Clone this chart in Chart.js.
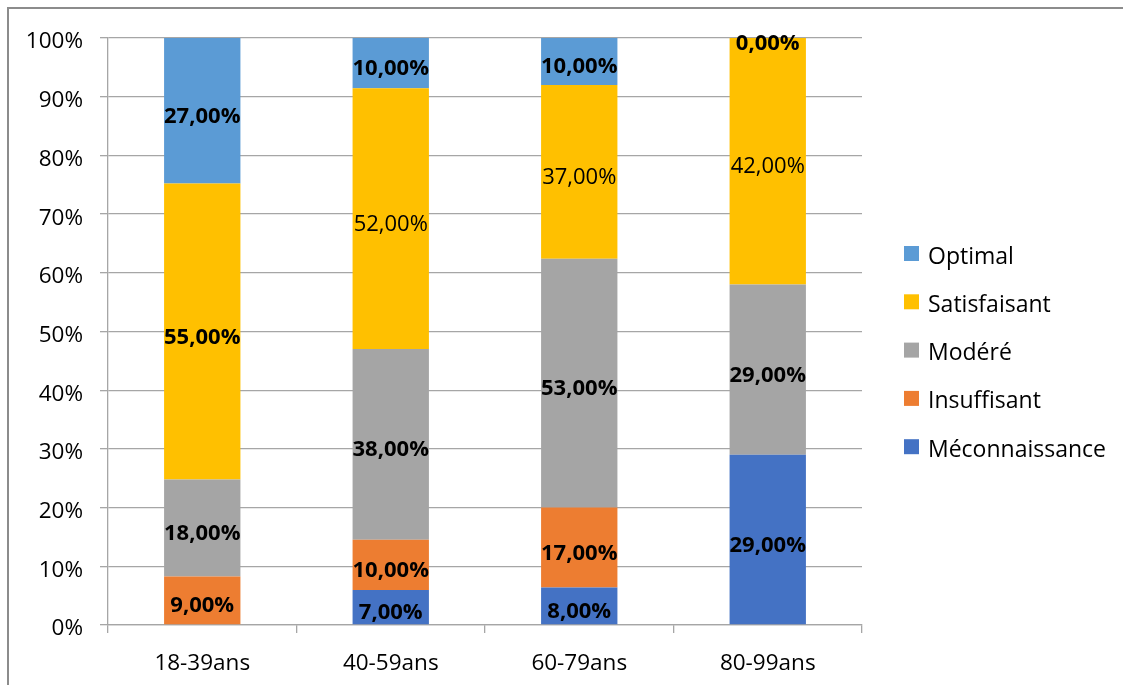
<!DOCTYPE html>
<html>
<head>
<meta charset="utf-8">
<script src="https://cdn.jsdelivr.net/npm/chart.js@4.4.1/dist/chart.umd.min.js"></script>
<style>
  html, body { margin: 0; padding: 0; background: #fff; overflow: hidden; }
  #wrap { position: relative; width: 1123px; height: 685px; }
  #frame { position: absolute; left: 7px; top: 7px; width: 1200px; height: 800px;
           border-left: 2px solid #8c8c8c; border-top: 2px solid #8c8c8c; }
  #chart { position: absolute; left: 0; top: 0; }
</style>
</head>
<body>
<div id="wrap">
  <div id="frame"></div>
  <canvas id="chart" width="1123" height="685"></canvas>
</div>
<script>
// ── DATA ────────────────────────────────────────────────────
const categories     = ['18-39ans', '40-59ans', '60-79ans', '80-99ans'];
const seriesNames    = ['Méconnaissance', 'Insuffisant', 'Modéré', 'Satisfaisant', 'Optimal'];
const meconnaissance = [0, 7, 8, 29];
const insuffisant    = [9, 10, 17, 0];
const modere         = [18, 38, 53, 29];
const satisfaisant   = [55, 52, 37, 42];
const optimal        = [27, 10, 10, 0];
const yTickStep      = 10;

// ── STYLE ───────────────────────────────────────────────────
const seriesColors = ['#4472C4', '#ED7D31', '#A5A5A5', '#FFC000', '#5B9BD5'];
const plainLabel   = [[], [], [], [false, true, true, true], []]; // non-bold labels
const FONT = "'Open Sans', 'Noto Sans', sans-serif";
const GRID = '#a6a6a6';

const rawSeries = [meconnaissance, insuffisant, modere, satisfaisant, optimal];
const totals = categories.map((_, i) => rawSeries.reduce((s, arr) => s + arr[i], 0));

// stacked 100% -> each value as share of its column
const datasets = rawSeries.map((arr, di) => ({
  label: seriesNames[di],
  data: arr.map((v, i) => v / totals[i] * 100),
  backgroundColor: seriesColors[di],
  borderWidth: 0,
  barPercentage: 0.405,
  categoryPercentage: 1,
}));

function fmtPct(v) {
  return v.toFixed(2).replace('.', ',') + '%';
}

// ── VALUE LABELS ───────────────────────────────────────────
const valueLabels = {
  id: 'valueLabels',
  afterDatasetsDraw(chart) {
    const ctx = chart.ctx;
    ctx.save();
    ctx.fillStyle = '#000';
    ctx.textAlign = 'center';
    ctx.textBaseline = 'alphabetic';
    const last = chart.data.datasets.length - 1;
    chart.data.datasets.forEach((d, di) => {
      const meta = chart.getDatasetMeta(di);
      meta.data.forEach((bar, i) => {
        const v = rawSeries[di][i];
        if (v === 0 && di !== last) return;
        const p = bar.getProps(['x', 'y', 'base'], true);
        const cy = (p.y + p.base) / 2;
        const plain = plainLabel[di] && plainLabel[di][i];
        ctx.font = (plain ? '' : 'bold ') + '22px ' + FONT;
        ctx.fillText(fmtPct(v), p.x, cy + 12);
      });
    });
    ctx.restore();
  }
};

// ── SIDE LEGEND ────────────────────────────────────────────
const sideLegend = {
  id: 'sideLegend',
  afterDraw(chart) {
    const ctx = chart.ctx;
    const ds = chart.data.datasets.slice().reverse();
    ctx.save();
    ctx.font = '23px ' + FONT;
    ctx.textAlign = 'left';
    ctx.textBaseline = 'alphabetic';
    ds.forEach((d, i) => {
      const cy = 253.5 + i * 48.3;
      ctx.fillStyle = d.backgroundColor;
      ctx.fillRect(904, cy - 7.5, 15, 15);
      ctx.fillStyle = '#000';
      ctx.fillText(d.label, 928, cy + 10);
    });
    ctx.restore();
  }
};

Chart.defaults.font.family = FONT;
Chart.defaults.font.size = 22;
Chart.defaults.color = '#000';

new Chart(document.getElementById('chart'), {
  type: 'bar',
  data: { labels: categories, datasets },
  plugins: [valueLabels, sideLegend],
  options: {
    responsive: false,
    animation: false,
    devicePixelRatio: 1,
    layout: { padding: { left: 0, top: 38, right: 261, bottom: 0 } },
    plugins: {
      legend: { display: false },
      tooltip: { enabled: false },
    },
    scales: {
      x: {
        stacked: true,
        grid: { drawOnChartArea: false, drawTicks: true, tickLength: 8, color: GRID, lineWidth: 1.3, offset: true },
        border: { color: GRID, width: 1.3 },
        ticks: { padding: 17, font: { size: 22.5 } },
        afterFit(scale) { scale.height = 60; },
      },
      y: {
        stacked: true,
        min: 0,
        max: 100,
        grid: { color: GRID, lineWidth: 1.3, tickLength: 8 },
        border: { color: GRID, width: 1.3 },
        ticks: {
          stepSize: yTickStep,
          padding: 17,
          labelOffset: 4,
          font: { size: 22.5 },
          callback: v => v + '%',
        },
        afterFit(scale) { scale.width = 108; },
      }
    }
  }
});
</script>
</body>
</html>
